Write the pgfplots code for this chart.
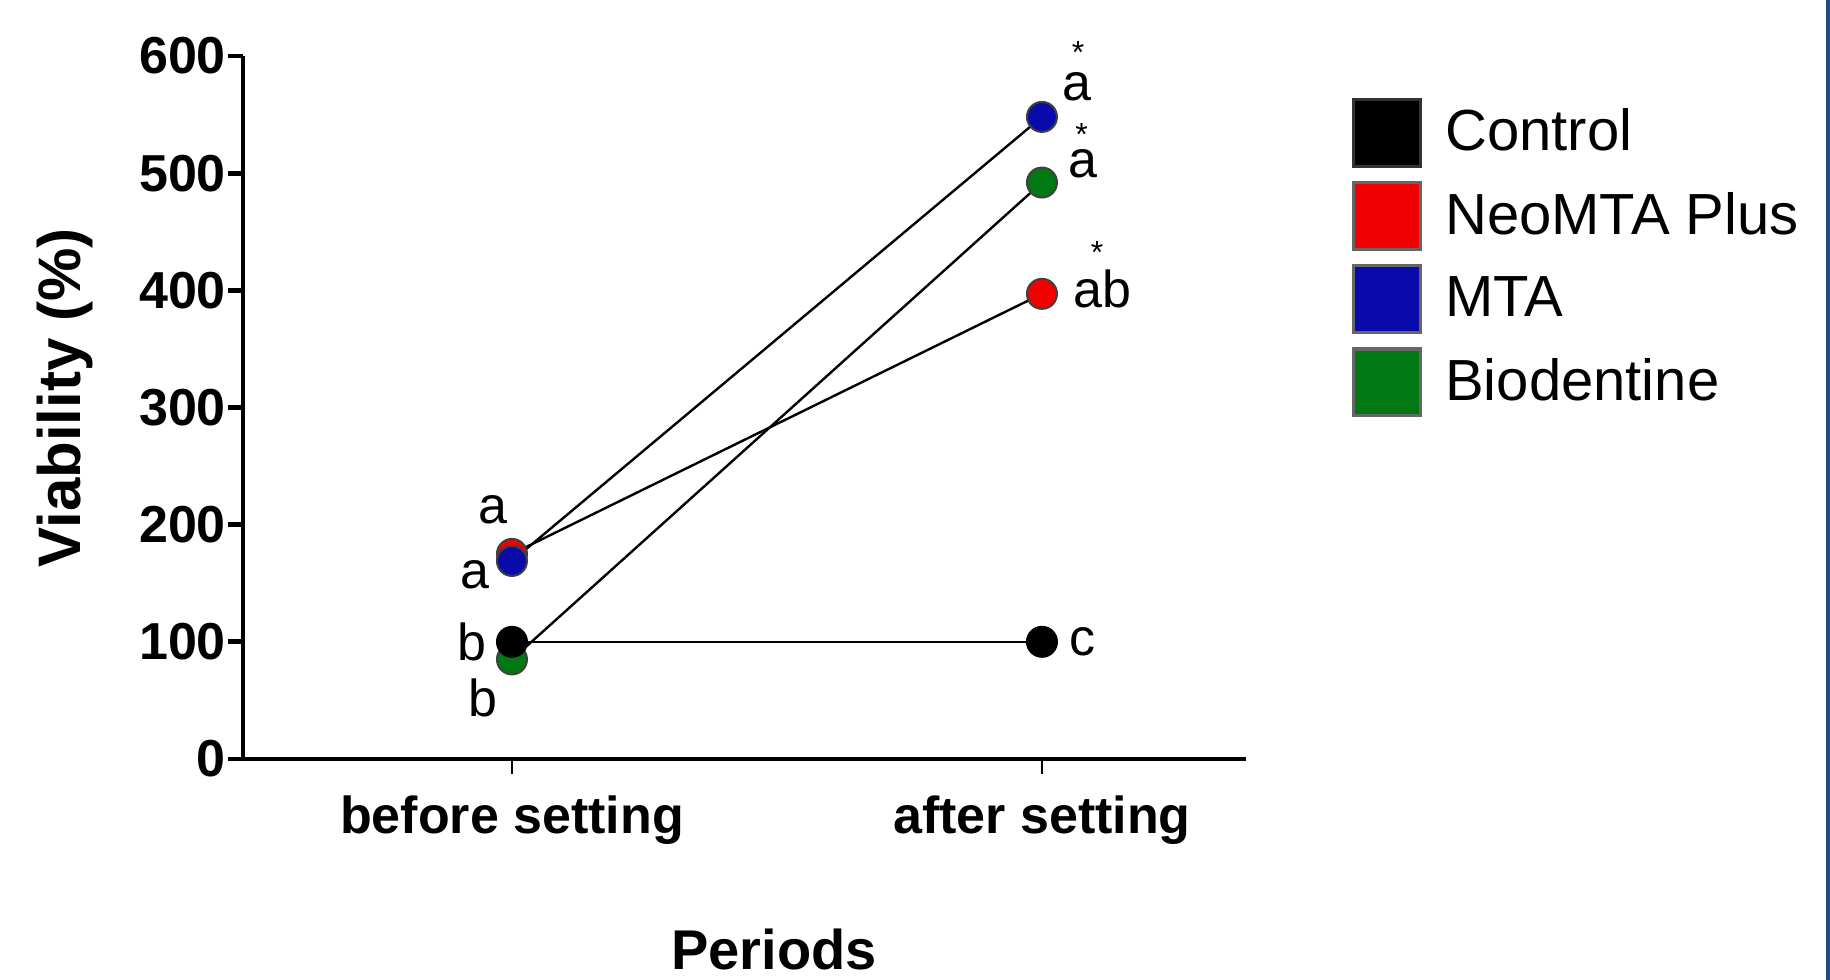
\documentclass[border=0pt]{standalone}
\usepackage{fontspec}
\setmainfont{Liberation Sans}
\usepackage{pgfplots}
\usepackage{pgfplotstable}
\pgfplotsset{compat=1.18}
\definecolor{cred}{RGB}{240,0,0}
\definecolor{cblue}{RGB}{10,10,170}
\definecolor{cgreen}{RGB}{0,120,20}
\definecolor{stripc}{RGB}{35,75,135}

\pgfplotstableread{
x y
0 100
1 100
}\control
\pgfplotstableread{
x y
0 175
1 397
}\neomta
\pgfplotstableread{
x y
0 169
1 548
}\mta
\pgfplotstableread{
x y
0 85
1 492
}\biodentine

\begin{document}
\begin{tikzpicture}
\path[use as bounding box, fill=white] (-60.75pt,-55.25pt) rectangle (396.75pt,189.75pt);
\fill[stripc] (395.75pt,-55.25pt) rectangle (396.75pt,189.75pt);
\begin{axis}[
  at={(0,0)}, anchor=south west,
  scale only axis, width=250.75pt, height=175.75pt,
  xmin=-0.5075, xmax=1.385, ymin=0, ymax=600,
  axis lines*=left,
  axis line style={line width=1.2pt, black},
  xtick={0,1}, xticklabels={before setting, after setting},
  ytick={0,100,...,600},
  tick align=outside, major tick length=3.75pt,
  ytick style={line width=1.2pt, black},
  xtick style={line width=0.6pt, black},
  tick label style={font=\fontsize{13}{15}\selectfont\bfseries},
  /pgf/number format/assume math mode=true,
  xticklabel style={anchor=base, yshift=-15pt},
  yticklabel style={xshift=3pt},
  xlabel={Periods},
  ylabel={Viability (\%)},
  xlabel style={at={(axis description cs:0.5294,-0.300)}, anchor=base, font=\fontsize{14}{16}\selectfont\bfseries},
  ylabel style={at={(axis description cs:-0.1775,0.5135)}, anchor=center, font=\fontsize{15}{17}\selectfont\bfseries},
  clip=false,
  legend style={at={(axis description cs:1.1057,0.9405)}, anchor=north west, draw=none, fill=none,
    inner sep=0pt, outer sep=0pt, row sep=3.3pt, column sep=5.8pt,
    font=\fontsize{14.5}{16}\selectfont, nodes={inner sep=0pt}},
  legend cell align=left,
]
% lines
\addplot[black, line width=0.6pt, forget plot] table[x=x,y=y] {\neomta};
\addplot[black, line width=0.6pt, forget plot] table[x=x,y=y] {\biodentine};
\addplot[black, line width=0.6pt, forget plot] table[x=x,y=y] {\mta};
\addplot[black, line width=0.6pt, forget plot] table[x=x,y=y] {\control};
% markers
\addplot[only marks, mark=*, mark size=3.75pt, mark options={fill=cred, draw=black!75, line width=0.5pt}, forget plot] table[x=x,y=y] {\neomta};
\addplot[only marks, mark=*, mark size=3.75pt, mark options={fill=cgreen, draw=black!75, line width=0.5pt}, forget plot] table[x=x,y=y] {\biodentine};
\addplot[only marks, mark=*, mark size=3.75pt, mark options={fill=cblue, draw=black!75, line width=0.5pt}, forget plot] table[x=x,y=y] {\mta};
\addplot[only marks, mark=*, mark size=3.75pt, mark options={fill=black, draw=black, line width=0.5pt}, forget plot] table[x=x,y=y] {\control};
% legend
\addlegendimage{legend image code/.code={\fill[black, draw=black!80, line width=0.8pt] (0pt,-8.35pt) rectangle (16.7pt,8.35pt);}}
\addlegendentry{Control}
\addlegendimage{legend image code/.code={\fill[cred, draw=black!60, line width=0.8pt] (0pt,-8.35pt) rectangle (16.7pt,8.35pt);}}
\addlegendentry{NeoMTA Plus}
\addlegendimage{legend image code/.code={\fill[cblue, draw=black!60, line width=0.8pt] (0pt,-8.35pt) rectangle (16.7pt,8.35pt);}}
\addlegendentry{MTA}
\addlegendimage{legend image code/.code={\fill[cgreen, draw=black!60, line width=0.8pt] (0pt,-8.35pt) rectangle (16.7pt,8.35pt);}}
\addlegendentry{Biodentine}
% annotations
\begin{scope}[every node/.style={font=\fontsize{13}{15}\selectfont, inner sep=0pt}]
\node at (axis cs:-0.036,212.5) {a};
\node at (axis cs:-0.070,157) {a};
\node at (axis cs:-0.075,100) {b};
\node at (axis cs:-0.055,52) {b};
\node at (axis cs:1.066,574) {a};
\node at (axis cs:1.077,508) {a};
\node at (axis cs:1.115,401) {ab};
\node at (axis cs:1.077,100) {c};
\end{scope}
\begin{scope}[every node/.style={font=\fontsize{8}{9}\selectfont, inner sep=0pt}]
\node at (axis cs:1.068,603) {*};
\node at (axis cs:1.075,533) {*};
\node at (axis cs:1.104,432) {*};
\end{scope}
\end{axis}
\end{tikzpicture}
\end{document}
